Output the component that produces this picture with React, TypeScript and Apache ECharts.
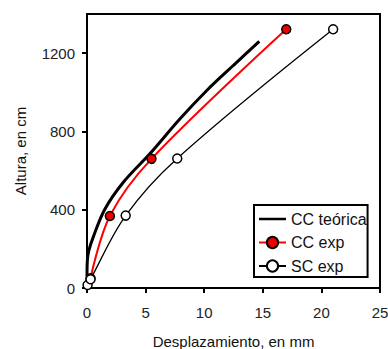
import React, { useEffect, useRef } from "react";
import * as echarts from "echarts";

const ccTeoricaX = [0, 0.03, 0.15, 0.5, 1.5, 3.1, 5.4, 7.9, 10.2, 12.5, 14.7];
const ccTeoricaY = [60, 140, 190, 255, 400, 540, 688, 862, 1008, 1138, 1260];

const ccExpX = [0.3, 1.95, 5.5, 17.0];
const ccExpY = [50, 368, 660, 1322];

const scExpX = [0.05, 0.3, 3.3, 7.7, 21.0];
const scExpY = [15, 45, 370, 662, 1322];

const xTicks = [0, 5, 10, 15, 20, 25];
const yTicks = [0, 400, 800, 1200];

const seriesNames = ["CC teórica", "CC exp", "SC exp"];

const zip = (xs: number[], ys: number[]) => xs.map((x, i) => [x, ys[i]]);

export default function App() {
  const ref = useRef<HTMLDivElement>(null);
  useEffect(() => {
    if (!ref.current) return;
    const chart = echarts.init(ref.current, undefined, { renderer: "svg" });
    const font = "Liberation Sans";
    chart.setOption({
      animation: false,
      textStyle: { fontFamily: font },
      grid: {
        left: 87,
        top: 14,
        right: 8,
        bottom: 61,
        show: true,
        borderColor: "#000",
        borderWidth: 2,
        outerBoundsMode: "none",
        containLabel: false,
      },
      legend: {
        orient: "vertical",
        left: 254,
        top: 205,
        padding: [6, 1, 3, 4],
        itemGap: 7.5,
        itemWidth: 27,
        itemHeight: 14,
        borderColor: "#000",
        borderWidth: 2,
        borderRadius: 0,
        backgroundColor: "#fff",
        textStyle: { fontFamily: font, fontSize: 16, color: "#111" },
        data: [
          {
            name: seriesNames[0],
            icon: "path://M0,0h0.01v0.01h-0.01z M0,5.8H27V8.2H0Z M26.99,14h0.01v0.01h-0.01z",
          },
          { name: seriesNames[1] },
          { name: seriesNames[2] },
        ],
      },
      xAxis: {
        type: "value",
        min: 0,
        max: 25,
        interval: 5,
        name: "Desplazamiento, en mm",
        nameLocation: "middle",
        nameGap: 46,
        nameTextStyle: { fontFamily: font, fontSize: 15, color: "#111" },
        splitLine: { show: false },
        axisLine: { show: true, lineStyle: { color: "#000", width: 2 } },
        axisTick: { show: true, length: 5, lineStyle: { color: "#000", width: 2 }, customValues: xTicks },
        axisLabel: { margin: 17, fontSize: 15, color: "#222", fontFamily: font, customValues: xTicks },
      },
      yAxis: {
        type: "value",
        min: 0,
        max: 1400,
        name: "Altura, en cm",
        nameLocation: "middle",
        nameGap: 59,
        nameRotate: 90,
        nameTextStyle: { fontFamily: font, fontSize: 15, color: "#111" },
        splitLine: { show: false },
        axisLine: { show: true, lineStyle: { color: "#000", width: 2 } },
        axisTick: { show: true, length: 5, lineStyle: { color: "#000", width: 2 }, customValues: yTicks },
        axisLabel: {
          margin: 12,
          fontSize: 15,
          color: "#222",
          fontFamily: font,
          customValues: yTicks,
          formatter: (v: number) => String(v),
        },
      },
      series: [
        {
          name: seriesNames[0],
          type: "line",
          data: zip(ccTeoricaX, ccTeoricaY),
          smooth: 0.35,
          symbol: "none",
          lineStyle: { color: "#000", width: 3 },
          itemStyle: { color: "#000" },
          z: 2,
        },
        {
          name: seriesNames[1],
          type: "line",
          data: zip(ccExpX, ccExpY),
          smooth: 0.35,
          symbol: "circle",
          symbolSize: 9,
          lineStyle: { color: "#ff0000", width: 2 },
          itemStyle: { color: "#ee0000", borderColor: "#000", borderWidth: 1.5 },
          z: 3,
        },
        {
          name: seriesNames[2],
          type: "line",
          data: zip(scExpX, scExpY),
          smooth: 0.35,
          symbol: "circle",
          symbolSize: 9,
          lineStyle: { color: "#000", width: 1.3 },
          itemStyle: { color: "#fff", borderColor: "#000", borderWidth: 1.5 },
          z: 4,
        },
      ],
    });
    return () => chart.dispose();
  }, []);
  return <div ref={ref} style={{ width: 388, height: 349, position: "absolute", left: 0, top: 0 }} />;
}
